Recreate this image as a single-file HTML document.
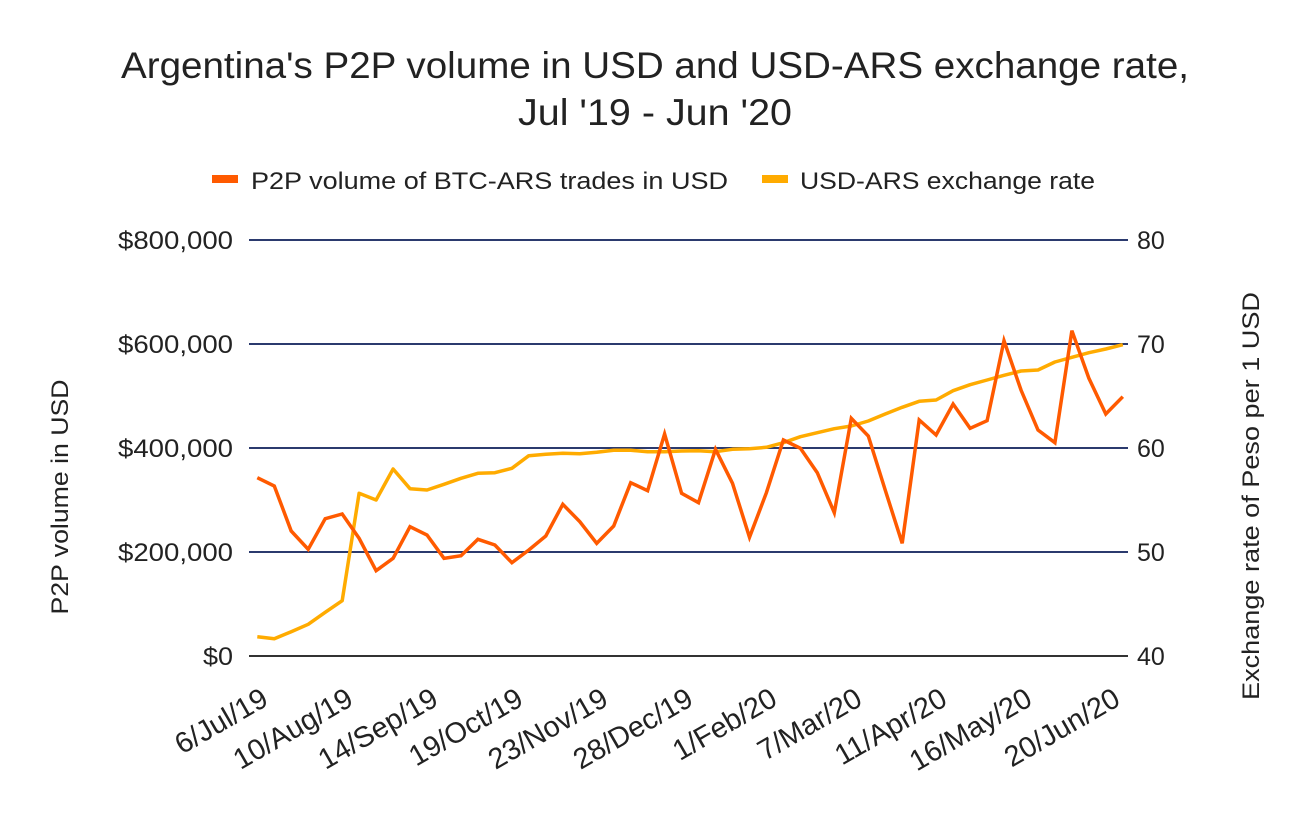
<!DOCTYPE html>
<html><head><meta charset="utf-8"><style>
html,body{margin:0;padding:0;background:#fff;}
svg text{font-family:"Liberation Sans",sans-serif;fill:#222;}
</style></head><body>
<svg width="1308" height="808" viewBox="0 0 1308 808" xmlns="http://www.w3.org/2000/svg">
<text x="121" y="78" font-size="37" textLength="1068" lengthAdjust="spacingAndGlyphs">Argentina's P2P volume in USD and USD-ARS exchange rate,</text>
<text x="518" y="125" font-size="37" textLength="274" lengthAdjust="spacingAndGlyphs">Jul '19 - Jun '20</text>
<rect x="212" y="175" width="26" height="8" fill="#FF5A00"/>
<text x="251" y="189" font-size="24" textLength="477" lengthAdjust="spacingAndGlyphs">P2P volume of BTC-ARS trades in USD</text>
<rect x="762" y="175" width="26" height="8" fill="#FFAB00"/>
<text x="800" y="189" font-size="24" textLength="295" lengthAdjust="spacingAndGlyphs">USD-ARS exchange rate</text>
<g stroke="#2b3a6e" stroke-width="2">
<line x1="249" y1="240" x2="1128" y2="240"/>
<line x1="249" y1="344" x2="1128" y2="344"/>
<line x1="249" y1="448" x2="1128" y2="448"/>
<line x1="249" y1="552" x2="1128" y2="552"/>
</g>
<line x1="249" y1="656" x2="1128" y2="656" stroke="#333" stroke-width="2"/>
<g font-size="25" text-anchor="end">
<text x="233" y="249" textLength="115" lengthAdjust="spacingAndGlyphs">$800,000</text>
<text x="233" y="353" textLength="115" lengthAdjust="spacingAndGlyphs">$600,000</text>
<text x="233" y="457" textLength="115" lengthAdjust="spacingAndGlyphs">$400,000</text>
<text x="233" y="561" textLength="115" lengthAdjust="spacingAndGlyphs">$200,000</text>
<text x="233" y="665" textLength="30" lengthAdjust="spacingAndGlyphs">$0</text>
</g>
<g font-size="25">
<text x="1137" y="249">80</text>
<text x="1137" y="353">70</text>
<text x="1137" y="457">60</text>
<text x="1137" y="561">50</text>
<text x="1137" y="665">40</text>
</g>
<text transform="translate(68,497) rotate(-90)" font-size="24" text-anchor="middle" textLength="235" lengthAdjust="spacingAndGlyphs">P2P volume in USD</text>
<text transform="translate(1259,496) rotate(-90)" font-size="24" text-anchor="middle" textLength="408" lengthAdjust="spacingAndGlyphs">Exchange rate of Peso per 1 USD</text>
<g font-size="29" text-anchor="end">
<text transform="translate(270,704) rotate(-30)">6/Jul/19</text>
<text transform="translate(355,704) rotate(-30)">10/Aug/19</text>
<text transform="translate(440,704) rotate(-30)">14/Sep/19</text>
<text transform="translate(525,704) rotate(-30)">19/Oct/19</text>
<text transform="translate(610,704) rotate(-30)">23/Nov/19</text>
<text transform="translate(695,704) rotate(-30)">28/Dec/19</text>
<text transform="translate(779,704) rotate(-30)">1/Feb/20</text>
<text transform="translate(864,704) rotate(-30)">7/Mar/20</text>
<text transform="translate(949,704) rotate(-30)">11/Apr/20</text>
<text transform="translate(1034,704) rotate(-30)">16/May/20</text>
<text transform="translate(1122,704) rotate(-30)">20/Jun/20</text>
</g>
<polyline fill="none" stroke="#FFAB00" stroke-width="3.5" stroke-linejoin="round" points="257.3,636.7 274.3,638.7 291.2,631.7 308.2,624.3 325.2,612.3 342.2,600.7 359.1,493.3 376.1,500 393.1,469 410,488.7 427,490 444,484.3 461,478.3 477.9,473.3 494.9,472.7 511.9,468.3 528.8,455.7 545.8,454.3 562.8,453.3 579.8,453.7 596.7,452.3 613.7,450.3 630.7,450.3 647.6,451.7 664.6,451.7 681.6,451 698.5,450.7 715.5,451.7 732.5,449.3 749.5,448.7 766.4,447.3 783.4,442.7 800.4,436.7 817.3,432.7 834.3,428.7 851.3,426 868.3,421 885.2,414 902.2,407.3 919.2,401.3 936.1,400 953.1,390.7 970.1,384.7 987.1,380 1004,375.3 1021,371 1038,370 1054.9,362 1071.9,357.3 1088.9,352.7 1105.8,349 1122.8,344.7"/>
<polyline fill="none" stroke="#FF5A00" stroke-width="3.5" stroke-linejoin="miter" points="257.3,477.7 274.3,486 291.2,531 308.2,549.3 325.2,518.7 342.2,514 359.1,538.3 376.1,570.7 393.1,558.3 410,526.7 427,535 444,558.3 461,555.7 477.9,539.3 494.9,545 511.9,562.7 528.8,550 545.8,536 562.8,504.3 579.8,521.7 596.7,543.3 613.7,526 630.7,482.7 647.6,490.7 664.6,434 681.6,493.3 698.5,502.7 715.5,449.3 732.5,483.3 749.5,537.3 766.4,492.7 783.4,440 800.4,448.3 817.3,472.7 834.3,512.7 851.3,418.3 868.3,436 885.2,490 902.2,543.3 919.2,420 936.1,435 953.1,404 970.1,428.3 987.1,420.7 1004,340.7 1021,390 1038,430 1054.9,442.7 1071.9,330.7 1088.9,378.3 1105.8,414 1122.8,396.7"/>
</svg>
</body></html>
